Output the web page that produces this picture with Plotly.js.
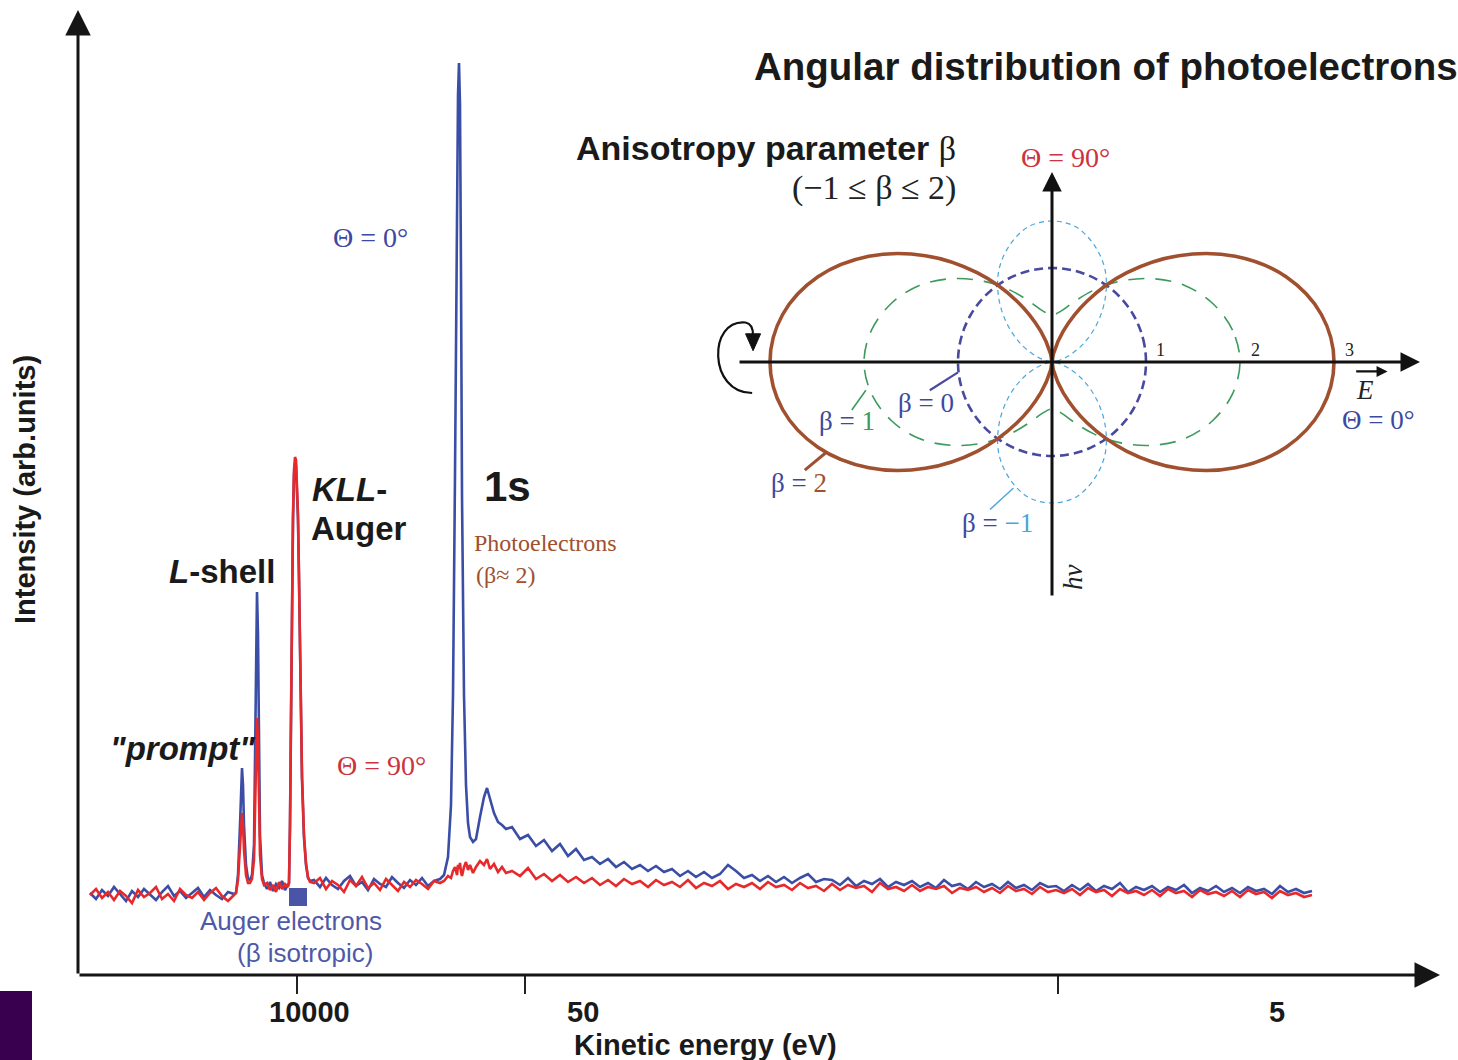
<!DOCTYPE html>
<html><head><meta charset="utf-8">
<script src="https://cdn.plot.ly/plotly-3.0.1.min.js"></script>
<style>html,body{margin:0;padding:0;background:#fff}#chart{width:1458px;height:1060px}</style>
</head><body><div id="chart"></div>
<script>
// ---------- Spectrum data (detector channel vs counts, arb. units) ----------
const chR1 = [90,96,102,108,114,120,126,132,138,144,150,156,162,168,174,180,186,192,198,204,210,216,222,228,234];
const blueR1 = [82,76,85,79,88,81,74,84,78,86,80,75,83,89,79,84,77,82,87,78,85,80,76,83,81];
const redR1  = [80,86,77,83,75,84,79,72,85,78,82,88,76,81,74,86,80,77,83,75,82,87,79,74,80];

const chR2 = [236,238,240,241,242,243,244,246,248,250,252,254,255,256,257,258,259,260,262,264];
const blueR2 = [82,100,150,185,207,190,150,110,96,95,100,130,200,320,383,340,220,140,100,92];
const redR2  = [82,95,130,155,162,150,125,100,92,92,96,115,165,230,257,235,170,120,96,90];

const chR3 = [267,270,273,276,279,282,285,288];
const blueR3 = [86,93,84,91,87,94,85,90];
const redR3  = [92,85,90,83,93,86,91,88];

const chR4 = [289,290,291,292,293,294,295,296,297,298,299,300,301,302,304,306,308,310];
const blueR4 = [92,148,255,375,455,500,512,510,485,455,395,325,255,196,137,110,97,94];
const redR4  = [92,150,260,380,460,505,518,515,490,460,400,330,260,200,140,112,98,93];

const chR5 = [314,320,326,332,338,344,350,356,362,368,374,380,386,392,398,404,410,416,422,428,434,440];
const blueR5 = [95,88,97,90,86,94,99,89,93,85,96,91,88,98,92,87,95,90,97,89,94,96];
const redR5  = [92,97,86,94,90,83,95,89,98,87,92,85,96,90,84,93,88,95,91,86,94,92];

const chR6 = [444,448,451,453,455,457,458,459,460,461,462,464,466,468,470,473,476,480,484,487,490,494,498,502,506];
const blueR6 = [100,118,170,280,500,780,880,912,870,700,480,280,190,152,138,133,136,158,178,187,176,162,153,150,146];
const redR6  = [94,99,97,104,108,100,110,106,112,103,99,108,113,105,110,102,108,114,110,116,106,111,103,108,102];

const chR7 = [512,520,528,536,544,552,560,568,576,584,
              592,600,608,616,624,632,640,648,656,664,
              672,680,688,696,704,712,720,728,736,744,
              752,760,768,776,784,792,800,808,816,824,
              832,840,848,856,864,872,880,888,896,904,
              912,920,928,936,944,952,960,968,976,984,
              992,1000,1008,1016,1024,1032,1040,1048,1056,1064,
              1072,1080,1088,1096,1104,1112,1120,1128,1136,1144,
              1152,1160,1168,1176,1184,1192,1200,1208,1216,1224,
              1232,1240,1248,1256,1264,1272,1280,1288,1296,1304,
              1312];
const blueR7 = [148,136,140,129,135,124,131,119,126,115,
                118,111,116,108,113,106,110,104,109,103,
                106,99,104,98,103,97,101,110,104,97,
                100,94,99,93,98,92,97,101,93,96,
                95,90,97,89,94,91,96,88,93,90,
                94,88,92,87,95,89,91,86,93,88,
                91,86,93,87,90,85,92,88,89,84,
                90,85,91,84,89,86,92,83,88,85,
                89,83,88,85,90,82,87,84,89,83,
                87,82,88,84,86,81,89,83,86,82,
                84];
const redR7  = [104,99,107,96,101,94,100,93,98,92,
                97,90,95,89,96,91,94,88,95,90,
                93,88,95,87,92,89,94,86,91,88,
                92,86,93,88,90,85,92,87,89,84,
                91,85,90,87,89,83,92,86,88,84,
                90,84,88,86,89,82,87,85,88,83,
                87,82,89,84,86,81,88,83,85,82,
                86,80,87,83,85,79,86,82,84,80,
                85,79,86,82,84,78,85,81,83,79,
                84,78,85,81,83,77,84,80,82,78,
                80];

const channel = [].concat(chR1, chR2, chR3, chR4, chR5, chR6, chR7);
const countsTheta0  = [].concat(blueR1, blueR2, blueR3, blueR4, blueR5, blueR6, blueR7);
const countsTheta90 = [].concat(redR1, redR2, redR3, redR4, redR5, redR6, redR7);

const augerMarkX = [298];
const augerMarkY = [78];

// Energy axis ticks (channel positions of tick marks)
const tickChannels = [297, 525, 1058];
const energyLabels = ['10000', '50', '5'];

// ---------- Angular distribution (inset) ----------
const thetaDeg = [0,10,20,30,40,50,60,70,80,90,100,110,120,130,140,150,160,170,180,
                  190,200,210,220,230,240,250,260,270,280,290,300,310,320,330,340,350,360];
const rBeta2 = [3.00,2.91,2.65,2.25,1.76,1.24,0.75,0.35,0.09,0.00,0.09,0.35,0.75,1.24,1.76,2.25,2.65,2.91,3.00,
                2.91,2.65,2.25,1.76,1.24,0.75,0.35,0.09,0.00,0.09,0.35,0.75,1.24,1.76,2.25,2.65,2.91,3.00];
const rBeta1 = [2.00,1.95,1.82,1.63,1.38,1.12,0.88,0.68,0.55,0.50,0.55,0.68,0.88,1.12,1.38,1.63,1.82,1.95,2.00,
                1.95,1.82,1.63,1.38,1.12,0.88,0.68,0.55,0.50,0.55,0.68,0.88,1.12,1.38,1.63,1.82,1.95,2.00];
const rBeta0 = [1,1,1,1,1,1,1,1,1,1,1,1,1,1,1,1,1,1,1,
                1,1,1,1,1,1,1,1,1,1,1,1,1,1,1,1,1,1];
const rBetaM1 = [0.00,0.05,0.18,0.38,0.62,0.88,1.13,1.32,1.46,1.50,1.46,1.32,1.13,0.88,0.62,0.38,0.18,0.05,0.00,
                 0.05,0.18,0.38,0.62,0.88,1.13,1.32,1.46,1.50,1.46,1.32,1.13,0.88,0.62,0.38,0.18,0.05,0.00];
const axisTickLabels = ['1', '2', '3'];

// ---------- Build ----------
const SANS = 'Liberation Sans, Arial, Helvetica, sans-serif';
const SERIF = 'Liberation Serif, Times New Roman, serif';
const BLUE = '#3b4ea6', RED = '#e8292b';
const TBLUE = '#3d48a0', TRED = '#cc3340', BROWN = '#a0502e', GREEN = '#3d9a5c', PURPLE = '#474a9e', LBLUE = '#4aa6dc';

function polarXY(r) {
  return {
    x: r.map((v, i) => v * Math.cos(thetaDeg[i] * Math.PI / 180)),
    y: r.map((v, i) => v * Math.sin(thetaDeg[i] * Math.PI / 180))
  };
}
function curve(r, color, width, dash) {
  const p = polarXY(r);
  return {x: p.x, y: p.y, xaxis: 'x2', yaxis: 'y2', mode: 'lines', hoverinfo: 'skip',
          line: {color: color, width: width, dash: dash, shape: 'spline', smoothing: 1}, showlegend: false};
}

const traces = [
  {x: channel, y: countsTheta0, mode: 'lines', line: {color: BLUE, width: 2.6}, showlegend: false},
  {x: channel, y: countsTheta90, mode: 'lines', line: {color: RED, width: 2.6}, showlegend: false},
  {x: augerMarkX, y: augerMarkY, mode: 'markers', marker: {symbol: 'square', size: 18, color: '#4a55a8'}, showlegend: false},
  curve(rBetaM1, LBLUE, 1.2, '5px,4px'),
  curve(rBeta1, GREEN, 1.6, '16px,11px'),
  curve(rBeta0, PURPLE, 2.6, '9px,5px'),
  curve(rBeta2, BROWN, 3.6, 'solid')
];

// pixel -> paper helpers (plot area: x 78..1440, y 10..975)
const P = px => (px - 78) / 1362;
const Q = py => (975 - py) / 965;
const U = 94; // inset pixels per unit, origin at (1052, 362)

function T(text, x, y, size, opts) {
  return Object.assign({text: text, x: P(x), y: Q(y), xref: 'paper', yref: 'paper', showarrow: false,
    xanchor: 'center', yanchor: 'middle', font: {family: SANS, size: size, color: '#1a1a1a'}}, opts || {});
}
function I(text, x, y, size, color, opts) {
  return Object.assign({text: text, x: x, y: y, xref: 'x2', yref: 'y2', showarrow: false,
    xanchor: 'center', yanchor: 'middle', font: {family: SERIF, size: size, color: color}}, opts || {});
}
const sp = (c, t) => `<span style="color:${c}">${t}</span>`;

const annotations = [
  // main axes arrows
  {x: 1, y: 0, xref: 'paper', yref: 'paper', ax: -1362, ay: 0, text: '', showarrow: true, arrowhead: 2, arrowsize: 1.7, arrowwidth: 3, arrowcolor: '#151515', standoff: 0},
  {x: 0, y: 1, xref: 'paper', yref: 'paper', ax: 0, ay: 965, text: '', showarrow: true, arrowhead: 2, arrowsize: 1.7, arrowwidth: 3, arrowcolor: '#151515', standoff: 0},
  // titles and labels
  T('<b>Angular distribution of photoelectrons</b>', 752, 67, 38.5, {xanchor: 'left'}),
  T('<b>Anisotropy parameter </b><span style="font-family:Liberation Serif, serif">β</span>', 958, 148, 34, {xanchor: 'right'}),
  T('(−1 ≤ β ≤ 2)', 958, 188, 34, {xanchor: 'right', font: {family: SERIF, size: 34, color: '#222'}}),
  T('Θ = 0°', 370, 238, 28, {font: {family: SERIF, size: 28, color: TBLUE}}),
  T('Θ = 90°', 381, 765, 28, {font: {family: SERIF, size: 28, color: TRED}}),
  T('<b>1s</b>', 507, 487, 42),
  T('Photoelectrons', 472, 543, 24, {xanchor: 'left', font: {family: SERIF, size: 24, color: BROWN}}),
  T('(β≈ 2)', 474, 575, 24, {xanchor: 'left', font: {family: SERIF, size: 24, color: BROWN}}),
  T('<b><i>KLL</i>-</b>', 310, 489, 33, {xanchor: 'left'}),
  T('<b>Auger</b>', 309, 528, 33, {xanchor: 'left'}),
  T('<b><i>L</i>-shell</b>', 277, 572, 33, {xanchor: 'right'}),
  T('<b><i>"prompt"</i></b>', 257, 748, 33, {xanchor: 'right'}),
  T('Auger electrons', 291, 921, 26, {font: {family: SANS, size: 26, color: '#5058a8'}}),
  T('(β isotropic)', 305, 953, 26, {font: {family: SANS, size: 26, color: '#5058a8'}}),
  T('<b>' + energyLabels[0] + '</b>', 309, 1012, 29),
  T('<b>' + energyLabels[1] + '</b>', 583, 1012, 29),
  T('<b>' + energyLabels[2] + '</b>', 1277, 1012, 29),
  T('<b>Kinetic energy (eV)</b>', 705, 1045, 29),
  T('<b>Intensity (arb.units)</b>', 25, 490, 29, {textangle: -90}),
  // inset axes
  {x: 3.915, y: 0, xref: 'x2', yref: 'y2', ax: -3.34, ay: 0, axref: 'x2', ayref: 'y2', text: '', showarrow: true, arrowhead: 2, arrowsize: 1.3, arrowwidth: 3, arrowcolor: '#111', standoff: 0},
  {x: 0, y: 2.02, xref: 'x2', yref: 'y2', ax: 0, ay: -2.5, axref: 'x2', ayref: 'y2', text: '', showarrow: true, arrowhead: 2, arrowsize: 1.3, arrowwidth: 3, arrowcolor: '#111', standoff: 0},
  {x: 3.57, y: -0.10, xref: 'x2', yref: 'y2', ax: 3.22, ay: -0.10, axref: 'x2', ayref: 'y2', text: '', showarrow: true, arrowhead: 2, arrowsize: 1, arrowwidth: 2.2, arrowcolor: '#111', standoff: 0},
  I(axisTickLabels[0], 1.15, 0.13, 18, '#222'),
  I(axisTickLabels[1], 2.16, 0.13, 18, '#222'),
  I(axisTickLabels[2], 3.17, 0.13, 18, '#222'),
  I('<i>E</i>', 3.33, -0.30, 27, '#222'),
  I('Θ = 0°', 3.47, -0.62, 27, TBLUE),
  I('Θ = 90°', 0.14, 2.18, 28, TRED),
  I('<i>hν</i>', 0.23, -2.29, 27, '#222', {textangle: -90}),
  I('β = ' + sp(GREEN, '1'), -2.18, -0.63, 27, TBLUE),
  I('β = 0', -1.34, -0.44, 27, TBLUE),
  I('β = ' + sp(BROWN, '2'), -2.69, -1.29, 27, TBLUE),
  I('β = ' + sp(LBLUE, '−1'), -0.585, -1.71, 27, TBLUE)
];

function L(x0, y0, x1, y1, color, w) {
  return {type: 'line', xref: 'x2', yref: 'y2', x0: x0, y0: y0, x1: x1, y1: y1, line: {color: color, width: w}};
}
const shapes = [
  L(-2.13, -0.51, -1.98, -0.30, GREEN, 1.6),
  L(-1.30, -0.30, -1.00, -0.11, PURPLE, 2.2),
  L(-2.63, -1.15, -2.40, -0.96, BROWN, 3),
  L(-0.66, -1.57, -0.41, -1.34, LBLUE, 1.4),
  // rotation symbol at the left end of the inset axis
  {type: 'path', xref: 'x2', yref: 'y2', path: 'M -3.19,-0.33 C -3.66,-0.33 -3.66,0.46 -3.26,0.42 C -3.20,0.41 -3.18,0.36 -3.18,0.28',
   line: {color: '#111', width: 2.2}},
  {type: 'path', xref: 'x2', yref: 'y2', path: 'M -3.26,0.30 L -3.10,0.30 L -3.18,0.12 Z',
   line: {color: '#111', width: 1}, fillcolor: '#111'},
  // bottom-left dark block
  {type: 'rect', xref: 'paper', yref: 'paper', x0: P(0), x1: P(32), y0: Q(1062), y1: Q(991),
   line: {width: 0}, fillcolor: '#3a0050'}
];

const layout = {
  width: 1458, height: 1060,
  margin: {l: 78, r: 18, t: 10, b: 85},
  paper_bgcolor: '#ffffff', plot_bgcolor: 'rgba(0,0,0,0)',
  showlegend: false,
  xaxis: {range: [78, 1440], domain: [0, 1], showgrid: false, zeroline: false, showline: false,
          tickmode: 'array', tickvals: tickChannels, ticks: 'outside', ticklen: 18, tickwidth: 2.5,
          tickcolor: '#222', showticklabels: false, fixedrange: true},
  yaxis: {range: [0, 965], domain: [0, 1], visible: false, fixedrange: true},
  xaxis2: {domain: [P(1052 - 3.8 * U), P(1052 + 4.0 * U)], range: [-3.8, 4.0], anchor: 'y2', visible: false, fixedrange: true},
  yaxis2: {domain: [Q(362 + 2.6 * U), Q(362 - 2.2 * U)], range: [-2.6, 2.2], anchor: 'x2', visible: false, fixedrange: true},
  annotations: annotations,
  shapes: shapes
};

Plotly.newPlot('chart', traces, layout, {displayModeBar: false, staticPlot: true});
</script></body></html>
